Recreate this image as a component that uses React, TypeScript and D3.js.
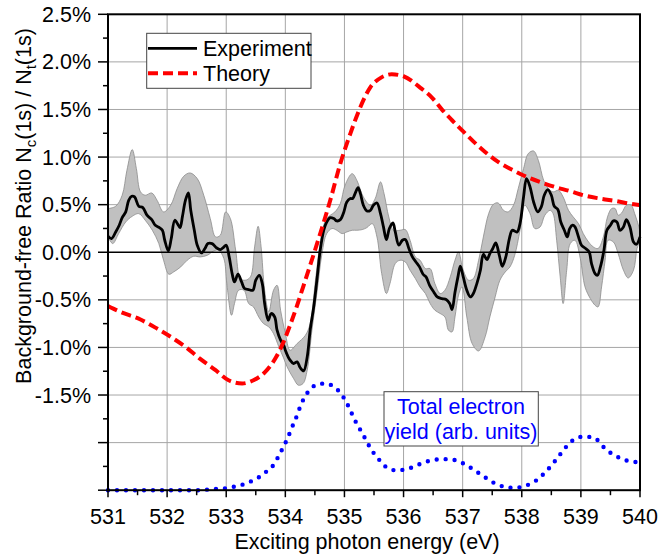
import React from "react";
import * as d3 from "d3";

// experiment: [energy (eV), ratio (%)]
const experiment: [number, number][] = [
  [531.0, 0.168], [531.06, 0.144], [531.13, 0.213], [531.19, 0.284], [531.24, 0.364],
  [531.3, 0.424], [531.35, 0.546], [531.4, 0.588], [531.45, 0.581], [531.52, 0.483],
  [531.59, 0.469], [531.66, 0.389], [531.74, 0.343], [531.8, 0.284], [531.87, 0.259],
  [531.92, 0.231], [531.96, 0.126], [532.02, 0.014], [532.07, 0.144], [532.13, 0.336],
  [532.19, 0.284], [532.22, 0.259], [532.26, 0.378], [532.31, 0.546], [532.36, 0.623],
  [532.4, 0.441], [532.46, 0.231], [532.51, 0.074], [532.58, -0.007], [532.64, 0.039],
  [532.69, 0.091], [532.76, 0.091], [532.83, 0.049], [532.9, 0.028], [532.95, 0.049],
  [533.0, 0.074], [533.05, -0.049], [533.1, -0.224], [533.14, -0.312], [533.2, -0.231],
  [533.26, -0.312], [533.31, -0.381], [533.38, -0.392], [533.45, -0.399], [533.5, -0.294],
  [533.56, -0.242], [533.61, -0.329], [533.65, -0.539], [533.71, -0.714], [533.76, -0.644],
  [533.82, -0.68], [533.86, -0.819], [533.92, -0.924], [533.98, -0.987], [534.0, -1.029],
  [534.08, -1.134], [534.14, -1.169], [534.2, -1.152], [534.25, -1.211], [534.31, -1.246],
  [534.37, -1.1], [534.42, -0.819], [534.48, -0.574], [534.54, -0.259], [534.59, 0.021],
  [534.65, 0.231], [534.7, 0.318], [534.76, 0.364], [534.82, 0.354], [534.87, 0.329],
  [534.93, 0.343], [534.99, 0.424], [535.04, 0.528], [535.1, 0.564], [535.14, 0.564],
  [535.18, 0.616], [535.23, 0.679], [535.27, 0.616], [535.32, 0.494], [535.38, 0.434],
  [535.44, 0.441], [535.49, 0.494], [535.55, 0.518], [535.61, 0.406], [535.66, 0.266],
  [535.71, 0.133], [535.76, 0.249], [535.82, 0.308], [535.86, 0.213], [535.92, 0.074],
  [535.98, 0.126], [536.03, 0.133], [536.09, 0.039], [536.15, -0.049], [536.21, -0.102],
  [536.27, -0.154], [536.33, -0.231], [536.38, -0.259], [536.44, -0.347], [536.51, -0.417],
  [536.57, -0.469], [536.65, -0.487], [536.72, -0.497], [536.78, -0.539], [536.82, -0.602],
  [536.87, -0.42], [536.92, -0.259], [536.96, -0.147], [537.01, -0.259], [537.07, -0.399],
  [537.13, -0.469], [537.18, -0.434], [537.24, -0.329], [537.3, -0.189], [537.35, -0.021],
  [537.41, -0.077], [537.46, -0.014], [537.51, 0.039], [537.56, 0.098], [537.62, -0.032],
  [537.67, -0.147], [537.73, -0.049], [537.79, 0.144], [537.84, 0.231], [537.92, 0.213],
  [537.97, 0.301], [538.03, 0.581], [538.08, 0.774], [538.14, 0.686], [538.2, 0.528],
  [538.27, 0.424], [538.33, 0.476], [538.38, 0.599], [538.44, 0.658], [538.5, 0.599],
  [538.55, 0.483], [538.61, 0.449], [538.66, 0.318], [538.72, 0.231], [538.77, 0.161],
  [538.81, 0.249], [538.86, 0.284], [538.9, 0.266], [538.96, 0.161], [539.01, 0.074],
  [539.08, 0.039], [539.14, 0.003], [539.18, -0.119], [539.24, -0.224], [539.28, -0.242],
  [539.33, -0.154], [539.39, 0.021], [539.44, 0.231], [539.5, 0.284], [539.55, 0.329],
  [539.61, 0.318], [539.66, 0.231], [539.72, 0.266], [539.77, 0.343], [539.83, 0.266],
  [539.89, 0.108], [539.94, 0.084], [540.0, 0.161],
];

// upper edge of the uncertainty band
const bandUpper: [number, number][] = [
  [531.0, 0.459], [531.13, 0.483], [531.24, 0.599], [531.32, 0.861], [531.41, 1.079],
  [531.48, 0.879], [531.55, 0.634], [531.63, 0.599], [531.74, 0.623], [531.83, 0.546],
  [531.94, 0.424], [532.06, 0.494], [532.17, 0.669], [532.28, 0.798], [532.39, 0.833],
  [532.51, 0.774], [532.62, 0.599], [532.73, 0.354], [532.82, 0.161], [532.9, 0.179],
  [532.99, 0.424], [533.07, 0.354], [533.16, 0.021], [533.24, -0.277], [533.32, -0.294],
  [533.41, -0.259], [533.48, 0.056], [533.54, 0.273], [533.59, 0.056], [533.65, -0.399],
  [533.72, -0.627], [533.8, -0.399], [533.86, -0.347], [533.92, -0.609], [534.0, -0.85],
  [534.08, -1.029], [534.2, -0.959], [534.34, -0.872], [534.42, -0.749], [534.51, -0.294],
  [534.59, 0.091], [534.68, 0.336], [534.76, 0.389], [534.84, 0.424], [534.93, 0.511],
  [535.01, 0.704], [535.13, 0.826], [535.21, 0.756], [535.32, 0.581], [535.44, 0.494],
  [535.52, 0.564], [535.61, 0.739], [535.67, 0.616], [535.75, 0.371], [535.83, 0.231],
  [535.94, 0.231], [536.03, 0.238], [536.11, 0.126], [536.2, -0.049], [536.28, -0.084],
  [536.37, -0.172], [536.45, -0.172], [536.53, -0.329], [536.62, -0.434], [536.7, -0.399],
  [536.79, -0.259], [536.87, -0.084], [536.93, 0.003], [537.01, -0.189], [537.1, -0.294],
  [537.18, -0.277], [537.27, -0.084], [537.35, 0.161], [537.44, 0.406], [537.52, 0.504],
  [537.6, 0.518], [537.69, 0.441], [537.77, 0.424], [537.86, 0.494], [537.94, 0.669],
  [538.03, 0.879], [538.11, 1.037], [538.2, 1.064], [538.28, 0.966], [538.37, 0.756],
  [538.45, 0.669], [538.53, 0.634], [538.62, 0.651], [538.7, 0.581], [538.79, 0.441],
  [538.87, 0.371], [538.96, 0.301], [539.04, 0.196], [539.13, 0.108], [539.21, 0.056],
  [539.29, 0.039], [539.38, 0.161], [539.45, 0.371], [539.52, 0.459], [539.58, 0.459],
  [539.63, 0.389], [539.69, 0.413], [539.77, 0.494], [539.85, 0.494], [539.91, 0.406],
  [540.0, 0.213],
];

// lower edge of the uncertainty band
const bandLower: [number, number][] = [
  [531.0, 0.161], [531.08, 0.091], [531.18, 0.196], [531.3, 0.318], [531.41, 0.378],
  [531.52, 0.406], [531.63, 0.336], [531.75, 0.231], [531.86, 0.091], [531.94, -0.084],
  [532.03, -0.231], [532.11, -0.207], [532.23, -0.154], [532.34, -0.084], [532.45, -0.042],
  [532.56, -0.049], [532.68, -0.032], [532.79, 0.014], [532.87, 0.021], [532.96, -0.066],
  [533.01, -0.329], [533.09, -0.662], [533.14, -0.539], [533.21, -0.399], [533.3, -0.399],
  [533.38, -0.539], [533.46, -0.574], [533.55, -0.68], [533.63, -0.749], [533.72, -0.784],
  [533.8, -0.854], [533.89, -0.994], [533.97, -1.11], [534.03, -1.204], [534.14, -1.327],
  [534.22, -1.397], [534.3, -1.379], [534.37, -1.239], [534.45, -0.819], [534.54, -0.399],
  [534.62, -0.014], [534.7, 0.196], [534.79, 0.249], [534.87, 0.231], [534.96, 0.196],
  [535.04, 0.213], [535.13, 0.231], [535.21, 0.231], [535.3, 0.238], [535.38, 0.259],
  [535.47, 0.301], [535.55, 0.161], [535.63, -0.224], [535.71, -0.434], [535.77, -0.329],
  [535.86, -0.119], [535.94, -0.084], [536.03, -0.102], [536.11, -0.189], [536.2, -0.277],
  [536.28, -0.364], [536.37, -0.434], [536.45, -0.539], [536.53, -0.609], [536.62, -0.644],
  [536.7, -0.68], [536.76, -0.819], [536.82, -0.837], [536.87, -0.68], [536.93, -0.45],
  [536.99, -0.364], [537.07, -0.68], [537.16, -0.959], [537.27, -1.037], [537.38, -0.889],
  [537.46, -0.68], [537.55, -0.469], [537.63, -0.294], [537.72, -0.207], [537.8, -0.154],
  [537.88, -0.032], [537.97, 0.231], [538.05, 0.494], [538.14, 0.406], [538.22, 0.249],
  [538.31, 0.266], [538.39, 0.389], [538.48, 0.441], [538.53, 0.406], [538.59, 0.126],
  [538.65, -0.259], [538.7, -0.539], [538.76, -0.189], [538.82, 0.091], [538.9, 0.126],
  [538.99, -0.066], [539.07, -0.364], [539.16, -0.487], [539.24, -0.557], [539.29, -0.574],
  [539.35, -0.364], [539.41, -0.084], [539.46, 0.126], [539.55, 0.108], [539.63, -0.014],
  [539.72, -0.189], [539.8, -0.27], [539.89, -0.189], [539.95, 0.039], [540.0, 0.126],
];

const theory: [number, number][] = [
  [531.0, -0.564], [531.21, -0.627], [531.55, -0.707], [531.83, -0.802], [532.08, -0.896],
  [532.31, -0.994], [532.56, -1.121], [532.82, -1.239], [533.04, -1.345], [533.27, -1.379],
  [533.46, -1.345], [533.66, -1.257], [533.83, -1.117], [533.97, -0.942], [534.08, -0.767],
  [534.2, -0.557], [534.31, -0.347], [534.42, -0.137], [534.59, 0.196], [534.76, 0.546],
  [534.93, 0.931], [535.1, 1.247], [535.27, 1.526], [535.44, 1.736], [535.62, 1.835],
  [535.8, 1.87], [536.0, 1.849], [536.28, 1.73], [536.48, 1.625], [536.65, 1.499],
  [536.82, 1.387], [537.0, 1.275], [537.18, 1.165], [537.38, 1.054], [537.6, 0.949],
  [537.83, 0.869], [538.06, 0.798], [538.31, 0.738], [538.56, 0.686], [538.81, 0.644],
  [539.04, 0.599], [539.32, 0.564], [539.61, 0.536], [539.83, 0.511], [540.0, 0.494],
];

// total electron yield, plotted on the same axis (arb. units)
const tey: [number, number][] = [
  [531.0, -2.5], [532.5, -2.5], [532.85, -2.485], [533.0, -2.479], [533.15, -2.461],
  [533.3, -2.437], [533.45, -2.398], [533.58, -2.353], [533.7, -2.293], [533.81, -2.227],
  [533.89, -2.136], [533.95, -2.066], [534.02, -1.978], [534.08, -1.891], [534.14, -1.799],
  [534.2, -1.712], [534.25, -1.625], [534.31, -1.541], [534.38, -1.471], [534.52, -1.394],
  [534.67, -1.379], [534.79, -1.4], [534.91, -1.463], [534.99, -1.53], [535.05, -1.597],
  [535.12, -1.688], [535.18, -1.768], [535.25, -1.846], [535.32, -1.922], [535.39, -2.003],
  [535.46, -2.08], [535.55, -2.15], [535.63, -2.213], [535.76, -2.276], [535.9, -2.293],
  [536.05, -2.276], [536.19, -2.251], [536.33, -2.209], [536.47, -2.188], [536.62, -2.174],
  [536.78, -2.174], [536.92, -2.195], [537.06, -2.234], [537.19, -2.287], [537.31, -2.335],
  [537.42, -2.381], [537.55, -2.43], [537.71, -2.465], [537.86, -2.476], [538.0, -2.465],
  [538.14, -2.434], [538.25, -2.395], [538.37, -2.329], [538.47, -2.262], [538.57, -2.188],
  [538.66, -2.115], [538.75, -2.045], [538.85, -1.982], [539.0, -1.94], [539.14, -1.94],
  [539.27, -1.968], [539.37, -2.038], [539.47, -2.094], [539.6, -2.143], [539.76, -2.185],
  [539.92, -2.203], [540.0, -2.21],
];

const yTickLabels = [2.5, 2.0, 1.5, 1.0, 0.5, 0.0, -0.5, -1.0, -1.5];
const xTickLabels = [531, 532, 533, 534, 535, 536, 537, 538, 539, 540];

const FONT = "'Liberation Sans', Arial, Helvetica, sans-serif";
const FS = 21.5;
const SY = 1.03; // text in the reference is a touch taller than wide

const Txt = ({ x, y, anchor = "middle", fill = "#000", children }: any) => (
  <text
    transform={`translate(${x},${y}) scale(1,${SY})`}
    textAnchor={anchor}
    fontSize={FS}
    fontFamily={FONT}
    fill={fill}
  >
    {children}
  </text>
);

const App = () => {
  const x = d3.scaleLinear().domain([531, 540]).range([108, 640]);
  const y = d3.scaleLinear().domain([-2.5, 2.5]).range([490.2, 14.3]);
  const [x0, x1] = x.range();
  const [yb, yt] = y.range();

  const xs = (d: [number, number]) => x(d[0]);
  const ys = (d: [number, number]) => y(d[1]);

  const expLine = d3.line<[number, number]>().x(xs).y(ys).curve(d3.curveCatmullRom)(experiment);
  const bandPath =
    d3.line<[number, number]>().x(xs).y(ys).curve(d3.curveCatmullRom)([
      ...bandUpper,
      ...bandLower.slice().reverse(),
    ]) + "Z";
  const theoryLine = d3.line<[number, number]>().x(xs).y(ys).curve(d3.curveMonotoneX)(theory);
  const teyLine = d3.line<[number, number]>().x(xs).y(ys).curve(d3.curveMonotoneX)(tey);

  const yGrid = d3.range(-2.0, 2.5, 0.5);
  const xGrid = d3.range(532, 540, 1);
  const yMinor = d3.range(-2.5, 2.51, 0.25);
  const xMinor = d3.range(531, 540.01, 0.5);

  return (
    <svg
      width={658}
      height={558}
      style={{ position: "absolute", left: 0, top: 0, background: "#fff" }}
    >
      <rect width={658} height={558} fill="#fff" />
      {/* grid */}
      {xGrid.map((e) => (
        <line key={"gx" + e} x1={x(e)} x2={x(e)} y1={yt} y2={yb} stroke="#a6a6a6" strokeWidth={1} />
      ))}
      {yGrid.map((v) =>
        v === 0 ? null : (
          <line key={"gy" + v} x1={x0} x2={x1} y1={y(v)} y2={y(v)} stroke="#a6a6a6" strokeWidth={1} />
        )
      )}

      {/* uncertainty band */}
      <path d={bandPath} fill="#c0c0c0" stroke="#8c8c8c" strokeWidth={0.8} />
      <line x1={x0} x2={x1} y1={y(0)} y2={y(0)} stroke="#000" strokeWidth={1.5} />
      <path d={expLine || ""} fill="none" stroke="#000" strokeWidth={2.8} strokeLinejoin="round" />

      {/* theory */}
      <path d={theoryLine || ""} fill="none" stroke="#ff0000" strokeWidth={4} strokeDasharray="10 5" />

      {/* total electron yield */}
      <path
        d={teyLine || ""}
        fill="none"
        stroke="#0000ff"
        strokeWidth={4.4}
        strokeDasharray="0 9"
        strokeLinecap="round"
      />

      {/* frame */}
      <rect x={x0} y={yt} width={x1 - x0} height={yb - yt} fill="none" stroke="#000" strokeWidth={2} />

      {/* y ticks */}
      {yMinor.map((v) => {
        const major = Math.abs(v * 2 - Math.round(v * 2)) < 1e-6;
        return (
          <line
            key={"ty" + v}
            x1={x0 - (major ? 10 : 5)}
            x2={x0}
            y1={y(v)}
            y2={y(v)}
            stroke="#000"
            strokeWidth={1.5}
          />
        );
      })}
      {yTickLabels.map((v) => (
        <Txt key={"ly" + v} x={91} y={y(v) + 7.5} anchor="end">
          {v.toFixed(1) + "%"}
        </Txt>
      ))}

      {/* x ticks */}
      {xMinor.map((e) => {
        const major = Math.abs(e - Math.round(e)) < 1e-6;
        return (
          <line
            key={"tx" + e}
            x1={x(e)}
            x2={x(e)}
            y1={yb}
            y2={yb + (major ? 7 : 5)}
            stroke="#000"
            strokeWidth={1.5}
          />
        );
      })}
      {xTickLabels.map((e) => (
        <Txt key={"lx" + e} x={x(e)} y={524}>
          {String(e)}
        </Txt>
      ))}

      {/* axis titles */}
      <Txt x={367} y={549}>
        Exciting photon energy (eV)
      </Txt>
      <text
        transform={`translate(31,206) rotate(-90)`}
        textAnchor="middle"
        fontSize={FS}
        fontFamily={FONT}
        fill="#000"
      >
        Background-free Ratio N
        <tspan fontSize={15} dy={5}>
          c
        </tspan>
        <tspan dy={-5}>(1s) / N</tspan>
        <tspan fontSize={15} dy={5}>
          t
        </tspan>
        <tspan dy={-5}>(1s)</tspan>
      </text>

      {/* legend */}
      <rect x={146.7} y={33.3} width={164.3} height={55} fill="#fff" stroke="#444" strokeWidth={1} />
      <line x1={148} x2={197} y1={48.3} y2={48.3} stroke="#000" strokeWidth={2.8} />
      <line x1={148} x2={197} y1={73.3} y2={73.3} stroke="#ff0000" strokeWidth={4} strokeDasharray="10 5" />
      <Txt x={203} y={55.5} anchor="start">
        Experiment
      </Txt>
      <Txt x={203} y={80.5} anchor="start">
        Theory
      </Txt>

      {/* TEY label */}
      <rect x={384} y={391.7} width={154.3} height={54.3} fill="#fff" stroke="#444" strokeWidth={1} />
      <Txt x={461} y={413.5} fill="#0000ff">
        Total electron
      </Txt>
      <Txt x={461} y={438.5} fill="#0000ff">
        yield (arb. units)
      </Txt>
    </svg>
  );
};

export default App;
